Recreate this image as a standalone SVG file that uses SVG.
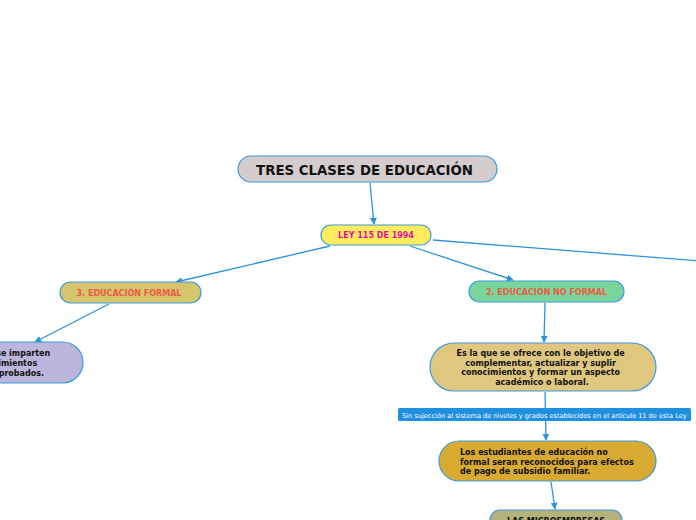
<svg xmlns="http://www.w3.org/2000/svg" width="696" height="520" viewBox="0 0 696 520">
<defs>
<style>
.node{stroke:#3a9be0;stroke-width:1.2}
.t{font-family:"DejaVu Sans",Verdana,sans-serif;font-weight:bold}
.c{fill:none;stroke:#2a93dc;stroke-width:1.3}
</style>
<marker id="ah" viewBox="0 0 10 10" refX="9" refY="5" markerWidth="7" markerHeight="7" orient="auto" markerUnits="userSpaceOnUse">
<path d="M0,0 L10,5 L0,10 Z" fill="#2a93dc"/>
</marker>
</defs>
<rect width="696" height="520" fill="#ffffff"/>
<g id="connectors">
<line class="c" x1="370" y1="183" x2="374" y2="224" marker-end="url(#ah)"/>
<line class="c" x1="330" y1="246" x2="176" y2="282" marker-end="url(#ah)"/>
<line class="c" x1="410" y1="246" x2="513" y2="280" marker-end="url(#ah)"/>
<line class="c" x1="433" y1="240" x2="700" y2="261"/>
<line class="c" x1="109" y1="304" x2="35" y2="342" marker-end="url(#ah)"/>
<line class="c" x1="545" y1="303" x2="544" y2="342" marker-end="url(#ah)"/>
<line class="c" x1="545" y1="392" x2="546" y2="440" marker-end="url(#ah)"/>
<line class="c" x1="551" y1="482" x2="555" y2="509" marker-end="url(#ah)"/>
</g>
<g id="root">
<rect class="node" x="238" y="156" width="259" height="26" rx="13" fill="#d5cccd"/>
<text class="t" x="364.5" y="174.5" font-size="13.3" text-anchor="middle" fill="#111">TRES CLASES DE EDUCACIÓN</text>
</g>
<g id="ley">
<rect class="node" x="321" y="225" width="110" height="20" rx="10" fill="#ffec5e"/>
<text class="t" x="376" y="238" font-size="8" text-anchor="middle" fill="#e0109a">LEY 115 DE 1994</text>
</g>
<g id="formal">
<rect class="node" x="60" y="282" width="141" height="21" rx="10.5" fill="#d6c56c"/>
<text class="t" x="129" y="295.5" font-size="8" text-anchor="middle" fill="#ea5a47">3. EDUCACIÓN FORMAL</text>
</g>
<g id="noformal">
<rect class="node" x="469" y="281" width="155" height="21" rx="10.5" fill="#7ad59d"/>
<text class="t" x="546.5" y="294.5" font-size="8" text-anchor="middle" fill="#ea5a47">2. EDUCACIÓN NO FORMAL</text>
</g>
<g id="formal-desc">
<rect class="node" x="-120" y="342" width="203" height="41" rx="20.5" fill="#bdb6dc"/>
<text class="t" font-size="8" text-anchor="end" fill="#111">
<tspan x="53" y="356">se imparten</tspan>
<tspan x="40" y="366">imientos</tspan>
<tspan x="44" y="375.5">probados.</tspan>
</text>
</g>
<g id="noformal-desc">
<rect class="node" x="430" y="343" width="226" height="48" rx="24" fill="#e0c780"/>
<text class="t" font-size="8" text-anchor="middle" fill="#111">
<tspan x="542" y="356">Es la que se ofrece con le objetivo de</tspan>
<tspan x="542" y="365.5">complementar, actualizar y suplir</tspan>
<tspan x="542" y="375">conocimientos y formar un aspecto</tspan>
<tspan x="542" y="384.5">académico o laboral.</tspan>
</text>
</g>
<g id="label">
<rect x="398" y="408" width="293" height="13" rx="1.5" fill="#1f8fe0"/>
<text x="402" y="417.5" font-size="6.6" font-family="DejaVu Sans,Verdana,sans-serif" fill="#ffffff">Sin sujección al sistema de niveles y grados establecidos en el artículo 11 de esta Ley</text>
</g>
<g id="estudiantes">
<rect class="node" x="439" y="441" width="217" height="40" rx="20" fill="#d8aa32"/>
<text class="t" font-size="8" fill="#111">
<tspan x="460" y="455">Los estudiantes de educación no</tspan>
<tspan x="460" y="464.5">formal seran reconocidos para efectos</tspan>
<tspan x="460" y="474">de pago de subsidio familiar.</tspan>
</text>
</g>
<g id="microempresas">
<rect class="node" x="490" y="510" width="132" height="24" rx="10" fill="#b2b27a"/>
<text class="t" x="556" y="524" font-size="8" text-anchor="middle" fill="#111">LAS MICROEMPRESAS</text>
</g>
</svg>
